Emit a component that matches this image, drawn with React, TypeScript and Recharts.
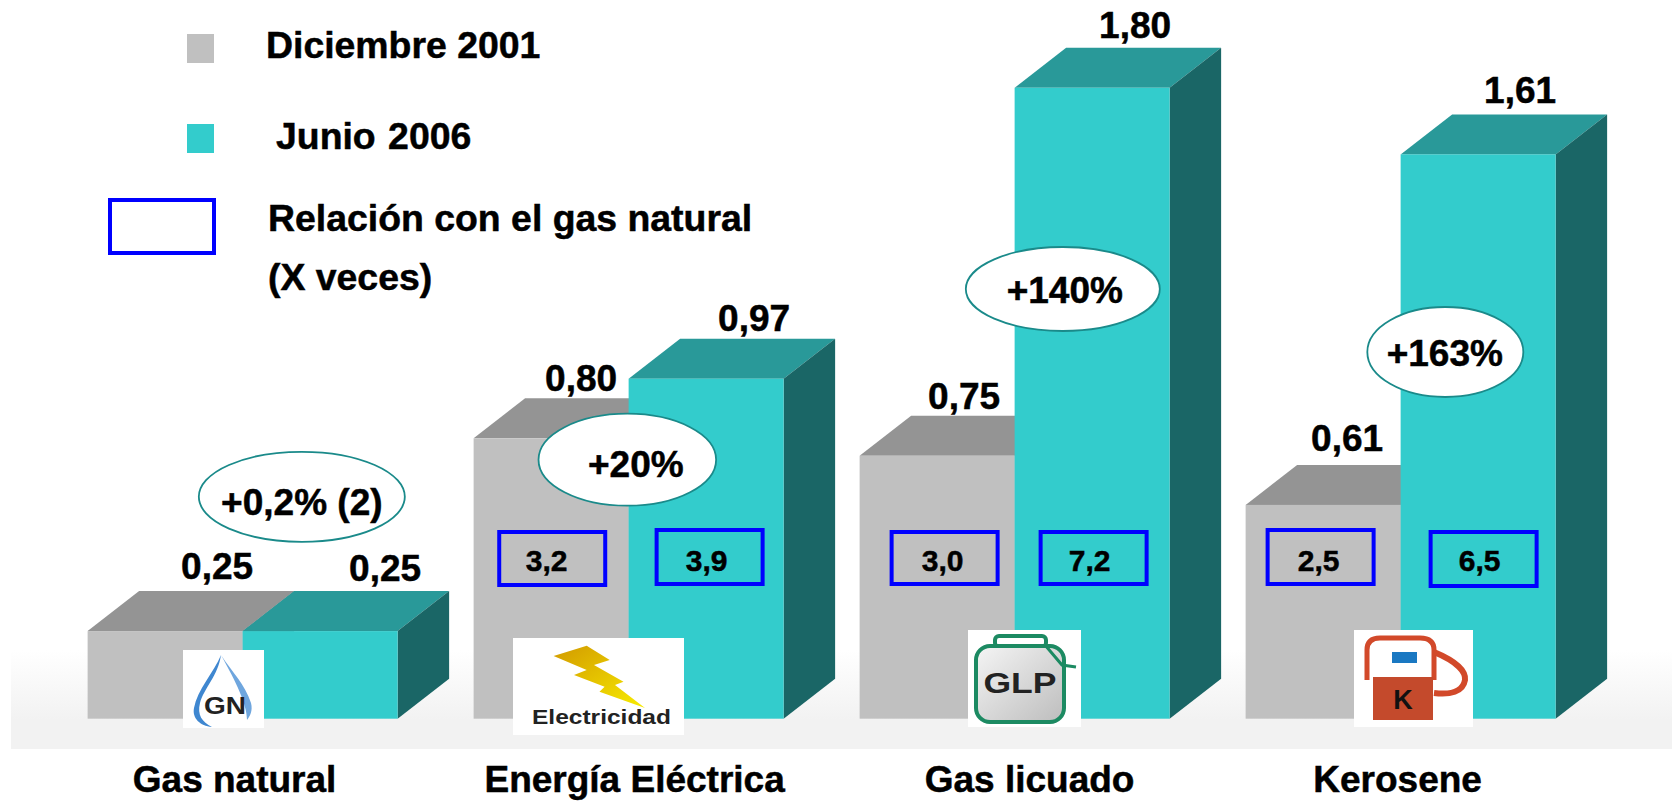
import React from "react";
import { BarChart, Bar, XAxis, YAxis, LabelList } from "recharts";

const categories = ["Gas natural", "Energía Eléctrica", "Gas licuado", "Kerosene"];
const dic2001 = [0.25, 0.8, 0.75, 0.61];
const jun2006 = [0.25, 0.97, 1.8, 1.61];
const ratioDic: (string | null)[] = [null, "3,2", "3,0", "2,5"];
const ratioJun: (string | null)[] = [null, "3,9", "7,2", "6,5"];
const changes = ["+0,2% (2)", "+20%", "+140%", "+163%"];
const seriesNames = ["Diciembre 2001", "Junio 2006"];
const ratioLegend = ["Relación con el gas natural", "(X veces)"];

const rows = categories.map((name, i) => ({
  name,
  dic: dic2001[i],
  jun: jun2006[i],
  ratioDic: ratioDic[i],
  ratioJun: ratioJun[i],
  change: changes[i],
}));

const FONT = "'Liberation Sans', Arial, sans-serif";
const GRAY = "#c0c0c0";
const GRAY_TOP = "#949494";
const GRAY_SIDE = "#808080";
const TEAL = "#33cccc";
const TEAL_TOP = "#299999";
const TEAL_SIDE = "#1a6666";
const BLUE = "#0000ff";
const DX = 51.5;
const DY = 40;
const HEAVY = { stroke: "#000", strokeWidth: 0.5 };

// offsets of annotations relative to their bar
const boxDic = [null, { dx: 23.6, w: 110, y: 530, h: 57, t: 73 }, { dx: 30, w: 110, y: 530, h: 56, t: 83 }, { dx: 20, w: 110, y: 528, h: 58, t: 73 }];
const boxJun = [null, { dx: 26, w: 110, y: 528, h: 58, t: 78 }, { dx: 24, w: 110, y: 530, h: 56, t: 75 }, { dx: 28, w: 110, y: 530, h: 58, t: 79 }];
const labelDic = [{ dx: 52, dy: -52 }, { dx: 30, dy: -47 }, { dx: 27, dy: -47 }, { dx: 24, dy: -54 }];
const labelJun = [{ dx: 65, dy: -50 }, { dx: 48, dy: -48 }, { dx: 43, dy: -50 }, { dx: 42, dy: -51 }];
const ellipses = [
  { dx: 59.2, dy: -134.3, rx: 103, ry: 45, tx: 59.2, ty: -116 },
  { dx: -1.3, dy: 81, rx: 88.8, ry: 46, tx: 7.2, ty: 98 },
  { dx: 48.2, dy: 201.2, rx: 97, ry: 42, tx: 50.2, ty: 215.2 },
  { dx: 44.7, dy: 197.6, rx: 78, ry: 45, tx: 44.2, ty: 211.3 },
];
const tickShift = [-8, 6, 15, -3];

const makeShape = (front: string, top: string, side: string, ratioKey: string, boxes: any[]) => (p: any) => {
  const { x, y, width: w, height: h, index } = p;
  const b = boxes[index];
  const ratio = p.payload ? p.payload[ratioKey] : null;
  return (
    <g>
      <polygon points={`${x},${y} ${x + DX},${y - DY} ${x + w + DX},${y - DY} ${x + w},${y}`} fill={top} />
      <polygon points={`${x + w},${y} ${x + w + DX},${y - DY} ${x + w + DX},${y + h - DY} ${x + w},${y + h}`} fill={side} />
      <rect x={x} y={y} width={w} height={h} fill={front} />
      {b && ratio ? (
        <g>
          <rect x={x + b.dx + 2} y={b.y + 2} width={b.w - 4} height={b.h - 4} fill="none" stroke={BLUE} strokeWidth={4} />
          <text x={x + b.t} y={571} textAnchor="middle" fontFamily={FONT} fontWeight="bold" fontSize={30} fill="#000" {...HEAVY}>{ratio}</text>
        </g>
      ) : null}
    </g>
  );
};

const makeValueLabel = (offsets: any[]) => (p: any) => {
  const { x, y, width, value, index } = p;
  const o = offsets[index];
  return (
    <text x={x + width / 2 + o.dx} y={y + o.dy} textAnchor="middle" fontFamily={FONT} fontWeight="bold" fontSize={37} fill="#000" {...HEAVY}>
      {String(Number(value).toFixed(2)).replace(".", ",")}
    </text>
  );
};

const ChangeLabel = (p: any) => {
  const { x, y, value, index } = p;
  const e = ellipses[index];
  return (
    <g>
      <ellipse cx={x + e.dx} cy={y + e.dy} rx={e.rx} ry={e.ry} fill="#fff" stroke="#1a8a8a" strokeWidth={1.8} />
      <text x={x + e.tx} y={y + e.ty} textAnchor="middle" fontFamily={FONT} fontWeight="bold" fontSize={37} fill="#000" {...HEAVY}>{value}</text>
    </g>
  );
};

const CategoryTick = (p: any) => {
  const { x, y, payload, index } = p;
  return (
    <text x={x + tickShift[index]} y={y + 65} textAnchor="middle" fontFamily={FONT} fontWeight="bold" fontSize={37} fill="#000" {...HEAVY}>
      {payload.value}
    </text>
  );
};

const Overlay = () => (
  <svg width={1672} height={801} style={{ position: "absolute", left: 0, top: 0, pointerEvents: "none" }}>
    <defs>
      <linearGradient id="bolt" x1="0" y1="0" x2="1" y2="1">
        <stop offset="0" stopColor="#d29a00" />
        <stop offset="1" stopColor="#f8ec00" />
      </linearGradient>
      <linearGradient id="can" x1="0" y1="0" x2="1" y2="1">
        <stop offset="0" stopColor="#f5f5f5" />
        <stop offset="1" stopColor="#bdbdbd" />
      </linearGradient>
    </defs>

    {/* Legend */}
    <rect x={187} y={34} width={27} height={29} fill={GRAY} />
    <rect x={187} y={124} width={27} height={29} fill={TEAL} />
    <rect x={110} y={200} width={104} height={53} fill="none" stroke={BLUE} strokeWidth={4} />
    <g fontFamily={FONT} fontWeight="bold" fontSize={37.4} fill="#000" {...HEAVY}>
      <text x={266} y={58}>{seriesNames[0]}</text>
      <text x={276} y={149} wordSpacing={2}>{seriesNames[1]}</text>
      <text x={268} y={231}>{ratioLegend[0]}</text>
      <text x={268} y={290}>{ratioLegend[1]}</text>
    </g>

    {/* GN icon */}
    <rect x={183} y={650} width={81} height={78} fill="#fff" />
    <path d="M221 655 C214 672 197 690 194 708 C192 718 200 726 212 727 C202 722 197 715 200 703 C204 688 218 676 221 655 Z" fill="#3f87d0" />
    <path d="M221 655 C232 672 245 684 251 703 C253 711 250 716 247 720 C247 704 236 682 221 655 Z" fill="#6fa6de" />
    <text x={225} y={714} textAnchor="middle" fontFamily={FONT} fontWeight="bold" fontSize={24} fill="#222" textLength={42} lengthAdjust="spacingAndGlyphs">GN</text>

    {/* Electricity icon */}
    <rect x={513} y={638} width={171} height={97} fill="#fff" />
    <polygon points="553.6,656 586.7,645.7 609.7,660 594,665 623.5,681.7 615,685 645,708 599.5,691.7 604.6,686.7 574,675 586.7,670" fill="url(#bolt)" />
    <text x={532} y={724} fontFamily={FONT} fontWeight="bold" fontSize={21} fill="#222" textLength={139} lengthAdjust="spacingAndGlyphs">Electricidad</text>

    {/* GLP icon */}
    <rect x={968} y={630} width={113} height={97} fill="#fff" />
    <rect x={995} y={636} width={51} height={11} rx={4} fill="#fff" stroke="#1c8a62" strokeWidth={4} />
    <rect x={976} y={646} width={88} height={76} rx={14} fill="url(#can)" stroke="#1c8a62" strokeWidth={4} />
    <path d="M1045 645 L1062 665 L1076 667" fill="none" stroke="#1c8a62" strokeWidth={3} />
    <text x={1020} y={693} textAnchor="middle" fontFamily={FONT} fontWeight="bold" fontSize={29} fill="#222" textLength={73} lengthAdjust="spacingAndGlyphs">GLP</text>

    {/* Kerosene icon */}
    <rect x={1354} y={630} width={119} height={97} fill="#fff" />
    <path d="M1367 680 L1367 650 Q1367 638 1380 638 L1420 638 Q1434 638 1434 650 L1434 680" fill="#fff" stroke="#d2492a" strokeWidth={5} />
    <rect x={1392} y={652} width={25} height={11} fill="#1a78c2" />
    <rect x={1373} y={677} width={60} height={43} fill="#c44a2c" />
    <path d="M1434 652 C1458 662 1466 672 1465 680 C1463 692 1450 695 1434 693" fill="none" stroke="#d2492a" strokeWidth={6} />
    <text x={1403} y={709} textAnchor="middle" fontFamily={FONT} fontWeight="bold" fontSize={27} fill="#111">K</text>
  </svg>
);

export default function App() {
  return (
    <div style={{ position: "absolute", left: 0, top: 0, width: 1672, height: 801, overflow: "hidden", background: "#fff" }}>
      <div
        style={{
          position: "absolute",
          left: 11,
          right: 0,
          top: 650,
          height: 99,
          background: "linear-gradient(to bottom, #ffffff 0%, #f2f2f2 70%, #f2f2f2 100%)",
        }}
      />
      <div style={{ position: "absolute", left: 0, top: 0 }}>
        <BarChart
          width={1672}
          height={801}
          data={rows}
          margin={{ top: 17.7, left: 49.6, right: 78.4, bottom: 0 }}
          barCategoryGap="9.85%"
          barGap={0}
        >
          <XAxis dataKey="name" height={82.3} axisLine={false} tickLine={false} interval={0} tick={<CategoryTick />} />
          <YAxis hide domain={[0, 2]} />
          <Bar dataKey="dic" name={seriesNames[0]} fill={GRAY} isAnimationActive={false} shape={makeShape(GRAY, GRAY_TOP, GRAY_SIDE, "ratioDic", boxDic)}>
            <LabelList dataKey="dic" content={makeValueLabel(labelDic)} />
          </Bar>
          <Bar dataKey="jun" name={seriesNames[1]} fill={TEAL} isAnimationActive={false} shape={makeShape(TEAL, TEAL_TOP, TEAL_SIDE, "ratioJun", boxJun)}>
            <LabelList dataKey="jun" content={makeValueLabel(labelJun)} />
            <LabelList dataKey="change" content={ChangeLabel} />
          </Bar>
        </BarChart>
      </div>
      <Overlay />
    </div>
  );
}
